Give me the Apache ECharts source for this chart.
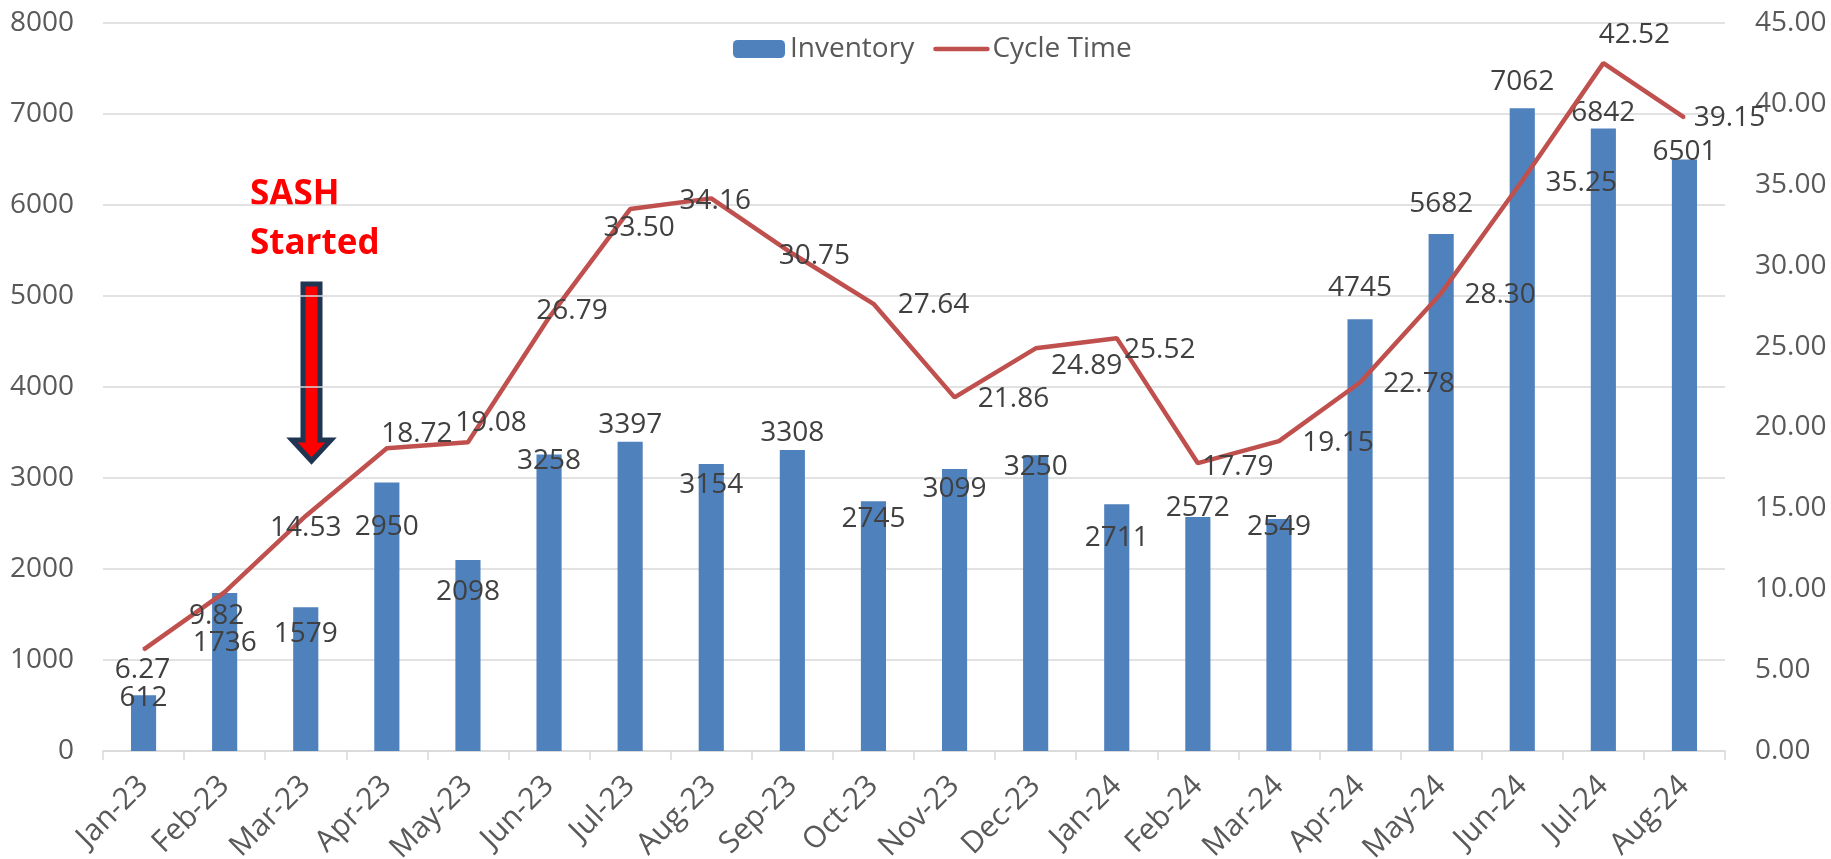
<!DOCTYPE html>
<html>
<head>
<meta charset="utf-8">
<script src="https://cdn.jsdelivr.net/npm/echarts@6/dist/echarts.min.js"></script>
<style>
  html, body { margin: 0; padding: 0; background: #fff; }
  #chart { width: 1831px; height: 859px; }
</style>
</head>
<body>
<div id="chart"></div>
<script>
// 月份
const months = ['Jan-23', 'Feb-23', 'Mar-23', 'Apr-23', 'May-23', 'Jun-23', 'Jul-23', 'Aug-23', 'Sep-23', 'Oct-23',
  'Nov-23', 'Dec-23', 'Jan-24', 'Feb-24', 'Mar-24', 'Apr-24', 'May-24', 'Jun-24', 'Jul-24', 'Aug-24'];
// 库存
const inventory = [612, 1736, 1579, 2950, 2098, 3258, 3397, 3154, 3308, 2745,
  3099, 3250, 2711, 2572, 2549, 4745, 5682, 7062, 6842, 6501];
// 周期
const cycleTime = [6.27, 9.82, 14.53, 18.72, 19.08, 26.79, 33.50, 34.16, 30.75, 27.64,
  21.86, 24.89, 25.52, 17.79, 19.15, 22.78, 28.30, 35.25, 42.52, 39.15];
// 轴刻度
const leftTicks = { min: 0, max: 8000, step: 1000 };
const rightTicks = { min: 0, max: 45, step: 5 };

// 标签偏移 (仿照原图手动摆放)
const invLabelShift = [3, 50, 27, 44, 32, 7, -17, 21, -17, 18, 20, 12, 34, -9, 8, -31, -30, -26, -15, -7];
const ctLabelShift = [[-1, 20], [-8, 24], [0, 12], [30, -14], [23, -19], [23, -7], [9, 19], [4, 3], [22, 2], [60, 1],
  [59, 2], [51, 18], [43, 12], [40, 4], [59, 2], [59, 2], [59, 2], [59, 2], [31, -28], [45, 0]];

const font = '"Open Sans", "Noto Sans", sans-serif';

let myChart = echarts.init(document.getElementById('chart'));
myChart.setOption({
  animation: false,
  textStyle: { fontFamily: font },
  color: ['#4F81BD', '#C0504D'],
  legend: {
    left: 728,
    top: 30,
    itemWidth: 52,
    itemHeight: 18,
    itemGap: 19,
    textStyle: { color: '#595959', fontSize: 28, fontFamily: font },
    data: [
      'Inventory',
      { name: 'Cycle Time', itemStyle: { opacity: 0 }, lineStyle: { width: 4.5, cap: 'round' } }
    ]
  },
  grid: { left: 103, right: 106, top: 23, bottom: 108, outerBoundsMode: 'none' },
  xAxis: {
    type: 'category',
    data: months,
    axisLine: { lineStyle: { color: '#D9D9D9', width: 1.5 } },
    axisTick: { show: true, length: 9, lineStyle: { color: '#D9D9D9', width: 1.5 } },
    axisLabel: { color: '#595959', fontSize: 30, rotate: 45, margin: 30, interval: 0 }
  },
  yAxis: [
    {
      type: 'value',
      min: leftTicks.min,
      max: leftTicks.max,
      interval: leftTicks.step,
      axisLine: { show: false },
      axisTick: { show: false },
      axisLabel: { color: '#595959', fontSize: 28, margin: 29, formatter: v => String(v) },
      splitLine: { lineStyle: { color: '#D9D9D9', width: 1.5 } }
    },
    {
      type: 'value',
      min: rightTicks.min,
      max: rightTicks.max,
      interval: rightTicks.step,
      axisLine: { show: false },
      axisTick: { show: false },
      axisLabel: { color: '#595959', fontSize: 28, margin: 30, formatter: v => v.toFixed(2) },
      splitLine: { show: false }
    }
  ],
  series: [
    {
      name: 'Inventory',
      type: 'bar',
      barWidth: '31%',
      itemStyle: { color: '#4F81BD' },
      label: {
        show: true,
        position: 'top',
        distance: 0,
        verticalAlign: 'middle',
        color: '#404040',
        fontSize: 28
      },
      data: inventory.map((v, i) => ({ value: v, label: { offset: [0, invLabelShift[i]] } }))
    },
    {
      name: 'Cycle Time',
      type: 'line',
      yAxisIndex: 1,
      symbol: 'circle',
      symbolSize: 2,
      showSymbol: true,
      lineStyle: { color: '#C0504D', width: 4.5 },
      itemStyle: { color: '#C0504D' },
      z: 3,
      label: {
        show: true,
        position: 'inside',
        align: 'center',
        verticalAlign: 'middle',
        color: '#404040',
        fontSize: 28,
        formatter: p => p.value.toFixed(2)
      },
      data: cycleTime.map((v, i) => ({ value: v, label: { offset: ctLabelShift[i] } }))
    }
  ],
  graphic: [
    // SASH Started 标注
    {
      type: 'text',
      left: 250,
      top: 171,
      style: {
        text: 'SASH\nStarted',
        fill: '#FF0000',
        font: 'bold 35px ' + font,
        lineHeight: 49
      }
    },
    // 箭头
    {
      type: 'polygon',
      shape: {
        points: [[303, 284], [320, 284], [320, 440], [331, 440], [311.5, 461], [292, 440], [303, 440]]
      },
      style: { fill: '#FF0000', stroke: '#1F3552', lineWidth: 5, lineJoin: 'miter' }
    }
  ]
});
</script>
</body>
</html>
